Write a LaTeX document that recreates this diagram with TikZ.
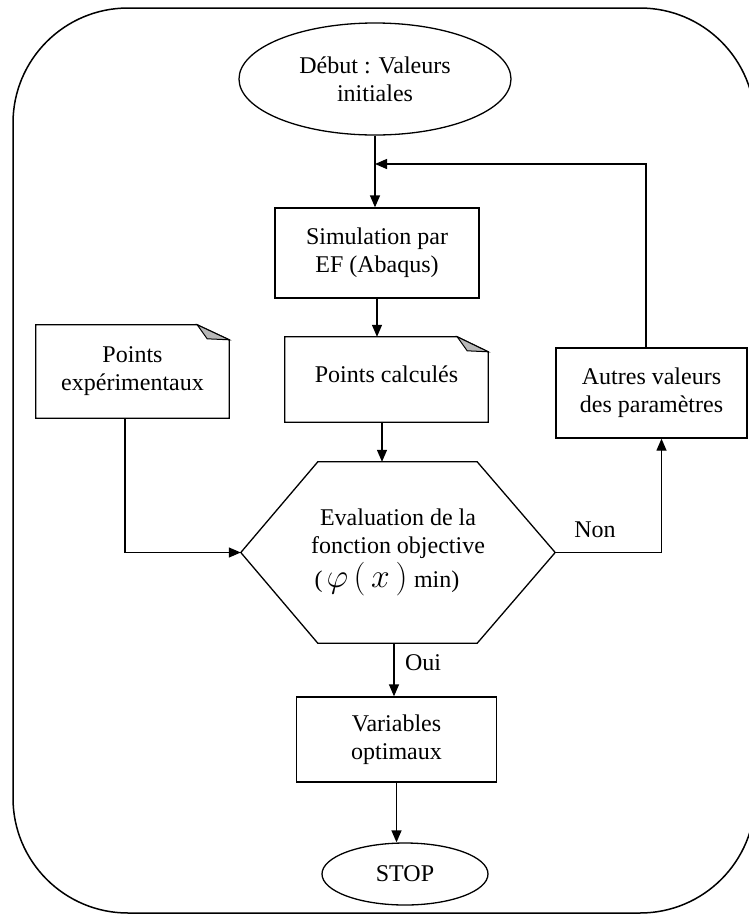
\documentclass[tikz,border=0pt]{standalone}
\usepackage{fontspec}
\usepackage{graphicx}
\setmainfont{Liberation Serif}
\usetikzlibrary{arrows.meta,shapes.geometric,calc}
\begin{document}
\begin{tikzpicture}[x=1pt,y=-1pt,
  every node/.style={font=\fontsize{24}{28}\selectfont, align=center, inner sep=0pt},
  line/.style={line width=1.3pt},
  boxnode/.style={draw, line width=1.3pt, rectangle},
  ellnode/.style={draw, line width=1.3pt, ellipse},
  arr/.style={line width=1.3pt, -{Triangle[length=12pt,width=10pt]}},
  foldfill/.style={line width=1pt, fill=black!28}
]
\useasboundingbox (0,0) rectangle (748,914);

% outer frame
\draw[line width=1.5pt, rounded corners=115pt] (13,8) rectangle (755,913);

% nodes
\node[ellnode, minimum width=272pt, minimum height=112pt] (deb) at (375,79) {Début : Valeurs\\initiales};
\node[boxnode, minimum width=204pt, minimum height=90pt] (sim) at (377,253) {Simulation par\\EF (Abaqus)};
\node[rectangle, minimum width=203pt, minimum height=85pt] (pc) at (386.5,379.5) {\raisebox{11pt}{Points calculés}};
\node[rectangle, minimum width=193pt, minimum height=93pt] (pe) at (132.5,371.5) {Points\\expérimentaux};
\node[boxnode, minimum width=191pt, minimum height=90pt] (aut) at (651.5,393) {\raisebox{4pt}{\begin{tabular}{@{}c@{}}Autres valeurs\\des paramètres\end{tabular}}};
\node[rectangle, minimum width=314pt, minimum height=181pt] (hex) at (398,552.5)
  {Evaluation de la\\fonction objective\\[3pt]\hspace*{-22pt}(\,\scalebox{1.35}{$\varphi\,(\,x\,)$}\;min)};
\node[boxnode, minimum width=200pt, minimum height=85pt] (var) at (396.5,739.5) {Variables\\optimaux};
\node[ellnode, minimum width=166pt, minimum height=62pt] (stop) at (405,874) {STOP};
\node (oui) at (423,663) {Oui};
\node (non) at (595,530) {Non};

% note shapes
\draw[line] (pe.north west) -- ([xshift=-32pt]pe.north east) -- ([yshift=-15pt]pe.north east)
  -- (pe.south east) -- (pe.south west) -- cycle;
\filldraw[foldfill] ([xshift=-32pt]pe.north east) -- ([xshift=-22pt,yshift=-14pt]pe.north east)
  -- ([yshift=-15pt]pe.north east) -- cycle;
\draw[line] (pc.north west) -- ([xshift=-31pt]pc.north east) -- ([yshift=-15pt]pc.north east)
  -- (pc.south east) -- (pc.south west) -- cycle;
\filldraw[foldfill] ([xshift=-31pt]pc.north east) -- ([xshift=-21pt,yshift=-14pt]pc.north east)
  -- ([yshift=-15pt]pc.north east) -- cycle;

% hexagon
\draw[line] (hex.west) -- ([xshift=77pt]hex.north west) -- ([xshift=-78pt]hex.north east)
  -- (hex.east) -- ([xshift=-78pt]hex.south east) -- ([xshift=77pt]hex.south west) -- cycle;

% connectors
\coordinate (fb) at (375,164);
\draw[arr] (deb.south) -- (deb.south |- sim.north);
\draw[arr] (sim.south) -- (sim.south |- pc.north);
\draw[arr] ([xshift=-4.5pt]pc.south) -- ([xshift=-4.5pt]pc.south |- hex.north);
\draw[arr] ([xshift=-4pt]hex.south) -- ([xshift=-4pt]hex.south |- var.north);
\draw[arr] (var.south) -- (var.south |- stop.north);
\draw[arr] ([xshift=-5.5pt]aut.north) |- (fb);
\draw[arr] (hex.east) -| ([xshift=10pt]aut.south);
\draw[arr] ([xshift=-7.5pt]pe.south) |- (hex.west);
\end{tikzpicture}
\end{document}
